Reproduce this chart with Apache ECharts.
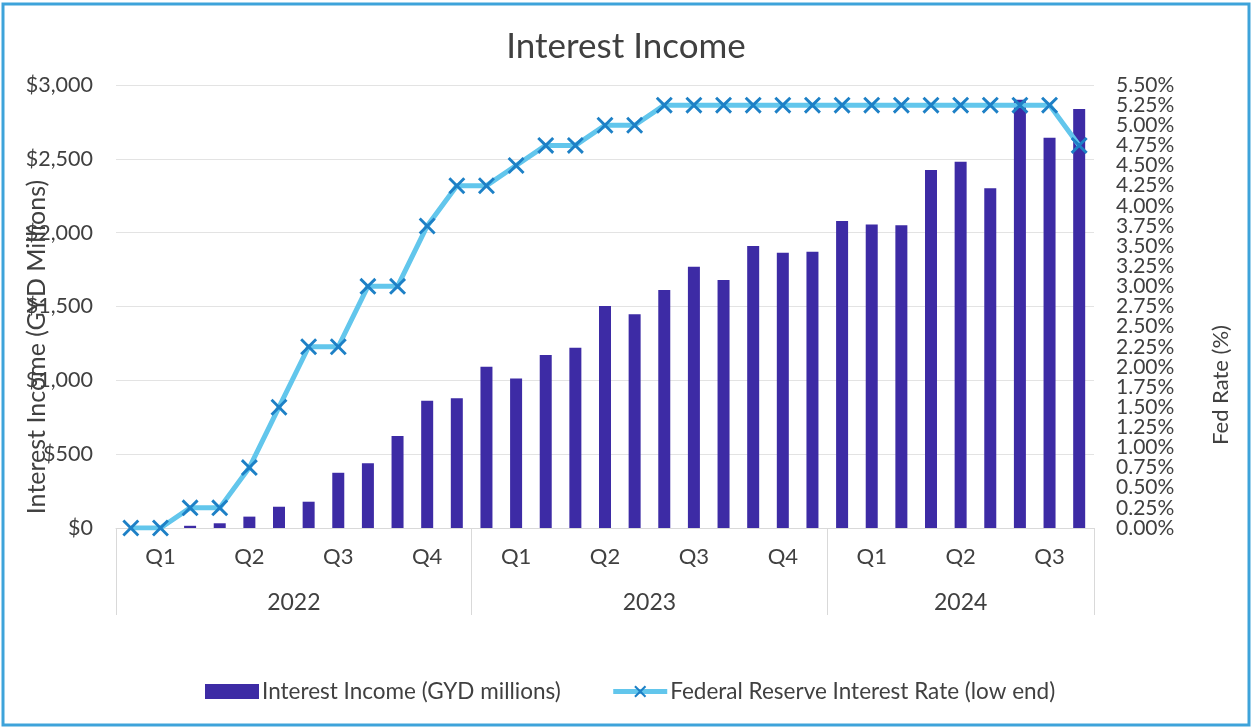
<!DOCTYPE html>
<html>
<head>
<meta charset="utf-8">
<script src="https://cdn.jsdelivr.net/npm/echarts@6/dist/echarts.min.js"></script>
<style>
  html, body { margin: 0; padding: 0; background: #ffffff; }
  #chart { width: 1252px; height: 727px; }
</style>
</head>
<body>
<div id="chart"></div>
<script>
// ---- Data ----
const months = [
  '2022-01','2022-02','2022-03','2022-04','2022-05','2022-06','2022-07','2022-08','2022-09','2022-10','2022-11','2022-12',
  '2023-01','2023-02','2023-03','2023-04','2023-05','2023-06','2023-07','2023-08','2023-09','2023-10','2023-11','2023-12',
  '2024-01','2024-02','2024-03','2024-04','2024-05','2024-06','2024-07','2024-08','2024-09'
];
const quarterLabels = [
  'Q1','Q1','Q1','Q2','Q2','Q2','Q3','Q3','Q3','Q4','Q4','Q4',
  'Q1','Q1','Q1','Q2','Q2','Q2','Q3','Q3','Q3','Q4','Q4','Q4',
  'Q1','Q1','Q1','Q2','Q2','Q2','Q3','Q3','Q3'
];
const yearLabels = ['2022', '2023', '2024'];
const yearMonthCounts = [12, 12, 9];
const interestIncome = [
  0, 0, 15, 32, 77, 144, 178, 374, 438, 623, 862, 878,
  1092, 1013, 1171, 1221, 1503, 1447, 1611, 1769, 1679, 1909, 1864, 1871,
  2079, 2056, 2051, 2424, 2480, 2300, 2900, 2643, 2837
];
const fedRate = [
  0.00, 0.00, 0.25, 0.25, 0.75, 1.50, 2.25, 2.25, 3.00, 3.00, 3.75, 4.25,
  4.25, 4.50, 4.75, 4.75, 5.00, 5.00, 5.25, 5.25, 5.25, 5.25, 5.25, 5.25,
  5.25, 5.25, 5.25, 5.25, 5.25, 5.25, 5.25, 5.25, 4.75
];

// ---- Year axis built on half-month slots (boundaryGap false) ----
const halfSlots = [];
for (let k = 0; k <= months.length * 2; k++) halfSlots.push(String(k));
const yearTickIdx = [0];
const yearLabelIdx = {};
{
  let acc = 0;
  yearMonthCounts.forEach((c, i) => {
    yearLabelIdx[acc * 2 + c] = yearLabels[i];
    acc += c;
    yearTickIdx.push(acc * 2);
  });
}

const FONT = 'Lato, "Noto Sans", sans-serif';
const X_SYMBOL = 'path://M0,1.2 L1.2,0 L5,3.8 L8.8,0 L10,1.2 L6.2,5 L10,8.8 L8.8,10 L5,6.2 L1.2,10 L0,8.8 L3.8,5 Z';
const LINE_COLOR = '#62c6ec';
const MARK_COLOR = '#1d80c6';

// Right axis labels split over two overlapping axes (alternate ticks) so none get hidden
const rateLabel = (parity) => (v) => {
  const k = Math.round(v / 0.25);
  return k % 2 === parity ? v.toFixed(2) + '%' : '';
};
const rightAxis = (parity) => ({
  type: 'value',
  min: 0,
  max: 5.5,
  interval: 0.25,
  position: 'right',
  axisLine: { show: false },
  axisTick: { show: false },
  axisLabel: {
    margin: 22,
    fontFamily: FONT,
    fontSize: 21,
    color: '#404040',
    showMinLabel: true,
    showMaxLabel: true,
    formatter: rateLabel(parity)
  },
  splitLine: { show: false }
});

const chart = echarts.init(document.getElementById('chart'), null, { renderer: 'canvas' });
chart.setOption({
  animation: false,
  backgroundColor: '#ffffff',
  textStyle: { fontFamily: FONT },
  title: {
    text: 'Interest Income',
    left: 'center',
    top: 24,
    textStyle: { fontFamily: FONT, fontSize: 35, fontWeight: 'normal', color: '#404040' }
  },
  grid: { left: 116, right: 158, top: 85, bottom: 199, containLabel: false },
  legend: {
    left: 200,
    top: 675,
    itemGap: 50,
    itemWidth: 54,
    itemHeight: 15,
    textStyle: { fontFamily: FONT, fontSize: 22.5, color: '#404040', padding: [0, 0, 0, -2] },
    data: [
      { name: 'Interest Income (GYD millions)', icon: 'rect' },
      {
        name: 'Federal Reserve Interest Rate (low end)',
        lineStyle: { color: LINE_COLOR, width: 5 },
        itemStyle: { color: MARK_COLOR }
      }
    ]
  },
  xAxis: [
    {
      type: 'category',
      data: months,
      position: 'bottom',
      axisLine: { show: true, lineStyle: { color: '#d9d9d9', width: 1 } },
      axisTick: { show: false },
      axisLabel: {
        interval: 0,
        margin: 18,
        fontFamily: FONT,
        fontSize: 22,
        color: '#404040',
        formatter: (v, i) => (i % 3 === 1 ? quarterLabels[i] : '')
      },
      splitLine: { show: false }
    },
    {
      type: 'category',
      data: halfSlots,
      boundaryGap: false,
      position: 'bottom',
      axisLine: { show: false },
      axisTick: {
        show: true,
        length: 87,
        interval: (i) => yearTickIdx.indexOf(i) >= 0,
        lineStyle: { color: '#d9d9d9', width: 1 }
      },
      axisLabel: {
        interval: (i) => yearLabelIdx[i] !== undefined,
        margin: 63,
        fontFamily: FONT,
        fontSize: 23,
        color: '#404040',
        formatter: (v, i) => yearLabelIdx[i] || ''
      },
      splitLine: { show: false }
    }
  ],
  yAxis: [
    {
      type: 'value',
      min: 0,
      max: 3000,
      interval: 500,
      axisLine: { show: false },
      axisTick: { show: false },
      axisLabel: {
        margin: 23,
        fontFamily: FONT,
        fontSize: 21.5,
        color: '#404040',
        showMinLabel: true,
        showMaxLabel: true,
        formatter: (v) => '$' + v.toLocaleString('en-US')
      },
      splitLine: { show: true, lineStyle: { color: '#e3e3e3', width: 1 } }
    },
    rightAxis(0),
    rightAxis(1)
  ],
  series: [
    {
      name: 'Interest Income (GYD millions)',
      type: 'bar',
      xAxisIndex: 0,
      yAxisIndex: 0,
      data: interestIncome,
      barWidth: 12,
      itemStyle: { color: '#3d2ba5' },
      z: 2
    },
    {
      name: 'Federal Reserve Interest Rate (low end)',
      type: 'line',
      xAxisIndex: 0,
      yAxisIndex: 1,
      data: fedRate,
      lineStyle: { color: LINE_COLOR, width: 5 },
      itemStyle: { color: MARK_COLOR },
      symbol: X_SYMBOL,
      symbolSize: 17,
      showAllSymbol: true,
      z: 3
    }
  ],
  graphic: [
    {
      type: 'rect',
      shape: { x: 3, y: 4, width: 1246, height: 721 },
      style: { fill: 'none', stroke: '#3ea3da', lineWidth: 3 },
      silent: true,
      z: 100
    },
    {
      type: 'text',
      x: 37,
      y: 347,
      rotation: Math.PI / 2,
      style: {
        text: 'Interest Income (GYD Millions)',
        font: '25px ' + FONT,
        fill: '#404040',
        align: 'center',
        verticalAlign: 'middle'
      },
      z: 50
    },
    {
      type: 'text',
      x: 1221,
      y: 385,
      rotation: Math.PI / 2,
      style: {
        text: 'Fed Rate (%)',
        font: '22px ' + FONT,
        fill: '#404040',
        align: 'center',
        verticalAlign: 'middle'
      },
      z: 50
    }
  ]
});
</script>
</body>
</html>
